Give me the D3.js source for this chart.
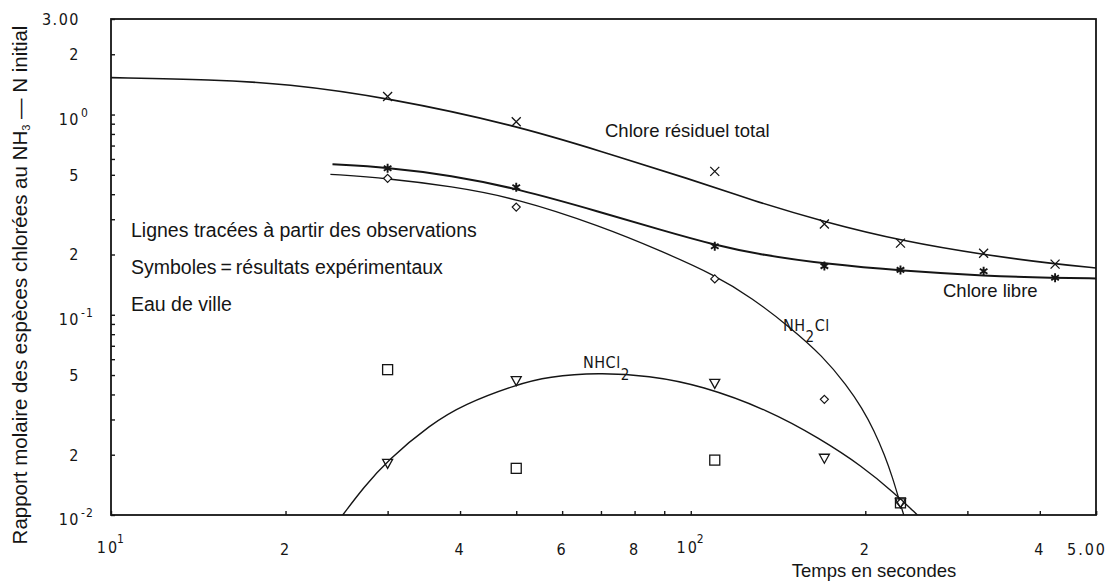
<!DOCTYPE html>
<html><head><meta charset="utf-8">
<script src="https://cdn.jsdelivr.net/npm/d3@7"></script>
<style>body{margin:0;background:#fff;} svg{display:block}</style>
</head><body><svg id="c" width="1118" height="581"></svg>
<script>
// ---- tick labels ----
const xLabelValues = [10, 20, 40, 60, 80, 100, 200, 400, 500];
const xLabelBase   = ["10", "2", "4", "6", "8", "10", "2", "4", "5.00"];
const xLabelSup    = ["1", "", "", "", "", "2", "", "", ""];
const yLabelValues = [3, 2, 1, 0.5, 0.2, 0.1, 0.05, 0.02, 0.01];
const yLabelBase   = ["3.00", "2", "10", "5", "2", "10", "5", "2", "10"];
const yLabelSup    = ["", "", "0", "", "", "-1", "", "", "-2"];

// ---- observations (symbols) ----
const obsTimes   = [30, 50, 110, 170, 230, 320, 425];
const totalObs   = [1.23, 0.92, 0.52, 0.284, 0.228, 0.203, 0.179];
const freeObs    = [0.539, 0.433, 0.22, 0.175, 0.1675, 0.165, 0.153];
const nh2clTimes = [30, 50, 110, 170, 230];
const nh2clObs   = [0.48, 0.345, 0.151, 0.0378, 0.0115];
const nhcl2Times = [30, 50, 110, 170, 230];
const nhcl2Obs   = [0.0181, 0.0469, 0.0454, 0.0192, 0.0115];
const squareTimes = [30, 50, 110, 230];
const squareObs   = [0.0532, 0.0171, 0.0188, 0.0115];

// ---- fitted lines ----
const totalCurveT = [10, 15, 20, 30, 50, 70, 100, 127.5, 170.5, 231.7, 322.6, 424.6, 500];
const totalCurveV = [1.528, 1.493, 1.427, 1.215, 0.882, 0.655, 0.475, 0.373, 0.290, 0.2335, 0.1988, 0.1794, 0.1713];
const freeCurveT  = [24.1, 30, 38.6, 50, 70, 89, 110, 132.7, 170.5, 231.7, 322.6, 424.6, 500];
const freeCurveV  = [0.564, 0.545, 0.497, 0.428, 0.3254, 0.2648, 0.223, 0.1988, 0.1794, 0.1656, 0.1563, 0.1528, 0.1519];
const nh2clCurveT = [23.9, 30, 38.6, 50, 70, 89, 110, 127.5, 149.5, 168.5, 186, 197.5, 207, 216, 223, 228, 233];
const nh2clCurveV = [0.503, 0.48, 0.438, 0.382, 0.277, 0.208, 0.158, 0.1215, 0.085, 0.0625, 0.0443, 0.0341, 0.0265, 0.0199, 0.0153, 0.0123, 0.0100];
const nhcl2CurveT = [25.1, 27.3, 30, 35.6, 40.6, 50, 56.8, 69.3, 84.6, 104.5, 136.4, 166.5, 197.6, 224.5, 246];
const nhcl2CurveV = [0.0100, 0.01378, 0.01877, 0.0284, 0.0357, 0.0448, 0.0491, 0.0514, 0.0497, 0.0443, 0.0333, 0.0242, 0.01753, 0.01287, 0.0100];

const INK = "#151515";
const tickFont = "'DejaVu Sans Condensed','Liberation Sans Narrow','DejaVu Sans',sans-serif";
const textFont = "'Liberation Sans',Arial,Helvetica,sans-serif";

const svg = d3.select("#c");
svg.append("rect").attr("width",1118).attr("height",581).attr("fill","#fff");

const x = d3.scaleLog().domain([10, 500]).range([111, 1096]);
const y = d3.scaleLog().domain([0.01, 3]).range([515, 19]);

// minor/major tick values
const xTickVals = [];
[10, 100].forEach(d => { for (let k = 1; k <= 9; k++) if (d*k <= 500) xTickVals.push(d*k); });
xTickVals.push(500);
const yTickVals = [];
[0.01, 0.1, 1].forEach(d => { for (let k = 1; k <= 9; k++) if (d*k <= 3) yTickVals.push(+(d*k).toFixed(3)); });

// axes (inward ticks)
const gx = svg.append("g").attr("transform","translate(0,515)")
  .call(d3.axisBottom(x).tickValues(xTickVals).tickSizeInner(-4).tickSizeOuter(0).tickFormat(""));
const gy = svg.append("g").attr("transform","translate(111,0)")
  .call(d3.axisLeft(y).tickValues(yTickVals).tickSizeInner(-4).tickSizeOuter(0).tickFormat(""));
[gx, gy].forEach(g => {
  g.select(".domain").remove();
  g.selectAll(".tick line").attr("stroke", INK).attr("stroke-width", 1.4);
});

// frame
svg.append("rect").attr("x", x(10)).attr("y", y(3))
  .attr("width", x(500)-x(10)).attr("height", y(0.01)-y(3))
  .attr("fill","none").attr("stroke", INK).attr("stroke-width", 1.8);

// y tick labels
yLabelValues.forEach((v, i) => {
  const hasSup = yLabelSup[i] !== "";
  const yy = y(v) + (hasSup ? 10 : 6);
  svg.append("text").attr("x", 80).attr("y", yy)
    .attr("text-anchor","end").attr("font-family", tickFont).attr("font-size", 16)
    .attr("letter-spacing", 1.5).attr("fill", INK).text(yLabelBase[i]);
  if (hasSup) svg.append("text").attr("x", 81).attr("y", yy - 8)
    .attr("font-family", tickFont).attr("font-size", 12).attr("letter-spacing", 1)
    .attr("fill", INK).text(yLabelSup[i]);
});
// x tick labels
xLabelValues.forEach((v, i) => {
  const hasSup = xLabelSup[i] !== "";
  const cx = x(v) - (hasSup ? 3 : (xLabelBase[i].length > 2 ? 9 : 0));
  svg.append("text").attr("x", cx).attr("y", hasSup ? 553 : 555)
    .attr("text-anchor","middle").attr("font-family", tickFont).attr("font-size", 16)
    .attr("letter-spacing", 2).attr("fill", INK).text(xLabelBase[i]);
  if (hasSup) svg.append("text").attr("x", cx + 9).attr("y", 543)
    .attr("font-family", tickFont).attr("font-size", 12).attr("fill", INK).text(xLabelSup[i]);
});

// axis titles
svg.append("text").attr("x", 874).attr("y", 577).attr("text-anchor","middle")
  .attr("font-family", textFont).attr("font-size", 18.5).attr("fill", INK).text("Temps en secondes");
const yt = svg.append("text").attr("transform","translate(27,285) rotate(-90)")
  .attr("text-anchor","middle").attr("font-family", textFont).attr("font-size", 20.5).attr("fill", INK);
yt.append("tspan").text("Rapport molaire des espèces chlorées au NH");
yt.append("tspan").attr("font-size", 11).attr("dy", 3).text("3");
yt.append("tspan").attr("dy", -3).text(" — N initial");

// clip
svg.append("clipPath").attr("id","clip").append("rect")
  .attr("x", x(10)).attr("y", y(3)).attr("width", x(500)-x(10)).attr("height", y(0.01)-y(3));

const line = d3.line().x(d => x(d[0])).y(d => y(d[1])).curve(d3.curveBasis);
const curves = [
  [totalCurveT, totalCurveV, 1.6],
  [freeCurveT, freeCurveV, 2.0],
  [nh2clCurveT, nh2clCurveV, 1.3],
  [nhcl2CurveT, nhcl2CurveV, 1.4]
];
const gc = svg.append("g").attr("clip-path","url(#clip)");
curves.forEach(([T, V, w]) => {
  gc.append("path").datum(T.map((t, i) => [t, V[i]])).attr("d", line)
    .attr("fill","none").attr("stroke", INK).attr("stroke-width", w);
});

// markers
const gm = svg.append("g").attr("fill","none").attr("stroke", INK);
function pts(T, V) { return T.map((t, i) => [x(t), y(V[i])]); }
pts(obsTimes, totalObs).forEach(([px, py]) => {
  gm.append("path").attr("d", `M${px-4.5},${py-4.5}L${px+4.5},${py+4.5}M${px-4.5},${py+4.5}L${px+4.5},${py-4.5}`)
    .attr("stroke-width", 1.3);
});
pts(obsTimes, freeObs).forEach(([px, py]) => {
  gm.append("path").attr("d", `M${px},${py-4.5}L${px},${py+4.5}M${px-3.8},${py-2.5}L${px+3.8},${py+2.5}M${px-3.8},${py+2.5}L${px+3.8},${py-2.5}`)
    .attr("stroke-width", 1.9);
});
pts(nh2clTimes, nh2clObs).forEach(([px, py]) => {
  gm.append("path").attr("d", `M${px},${py-4}L${px+4},${py}L${px},${py+4}L${px-4},${py}Z`)
    .attr("stroke-width", 1.2).attr("fill","#fff");
});
pts(squareTimes, squareObs).forEach(([px, py]) => {
  gm.append("rect").attr("x", px-5).attr("y", py-5).attr("width", 10).attr("height", 10)
    .attr("stroke-width", 1.3);
});
pts(nhcl2Times, nhcl2Obs).forEach(([px, py]) => {
  gm.append("path").attr("d", `M${px-5},${py-4}L${px+5},${py-4}L${px},${py+5}Z`)
    .attr("stroke-width", 1.3);
});

// annotations
const ann = [
  ["Lignes tracées à partir des observations", 131, 237, 19.5],
  ["Symboles\u2009=\u2009résultats expérimentaux", 131, 274, 19.5],
  ["Eau de ville", 131, 311, 19.5],
  ["Chlore résiduel total", 605, 137, 18.5],
  ["Chlore libre", 943, 297, 18.5]
];
ann.forEach(([t, ax, ay, fs]) => {
  svg.append("text").attr("x", ax).attr("y", ay).attr("font-family", textFont)
    .attr("font-size", fs).attr("fill", INK).text(t);
});
// chemical labels (plotter-style font)
const t1 = svg.append("text").attr("x", 783).attr("y", 331).attr("font-family", tickFont)
  .attr("font-size", 16).attr("letter-spacing", 0.5).attr("fill", INK);
t1.append("tspan").text("NH");
t1.append("tspan").attr("dy", 11).attr("font-size", 15).text("2");
t1.append("tspan").attr("dy", -11).text("Cl");
const t2 = svg.append("text").attr("x", 583).attr("y", 368).attr("font-family", tickFont)
  .attr("font-size", 16).attr("letter-spacing", 0.5).attr("fill", INK);
t2.append("tspan").text("NHCl");
t2.append("tspan").attr("dy", 12).attr("font-size", 15).text("2");
</script></body></html>
